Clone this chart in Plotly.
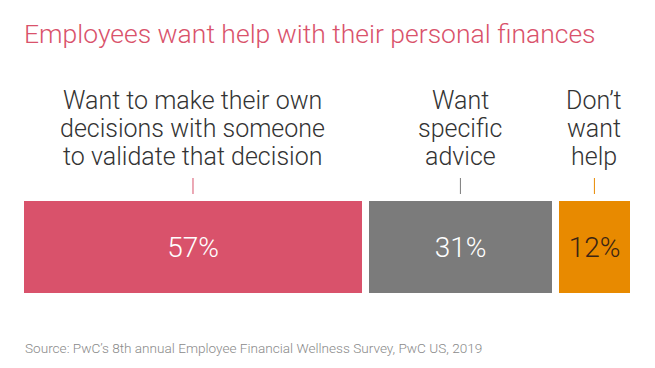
import plotly.graph_objects as go

categories = ["Want to make their own<br>decisions with someone<br>to validate that decision",
              "Want<br>specific<br>advice",
              "Don’t<br>want<br>help"]
values = [57, 31, 12]
value_labels = ["57%", "31%", "12%"]
colors = ["#d9526b", "#7b7b7b", "#e88a00"]
text_colors = ["#ffffff", "#ffffff", "#3a2414"]
tick_colors = ["#d9526b", "#7b7b7b", "#e88a00"]
title_text = "Employees want help with their personal finances"
source_text = "Source: PwC’s 8th annual Employee Financial Wellness Survey, PwC US, 2019"

GAP = 1.1
bases = []
acc = 0
for i, v in enumerate(values):
    bases.append(acc + i * GAP)
    acc += v
total = acc + GAP * (len(values) - 1)

FONT = "Roboto, 'Liberation Sans', Arial, sans-serif"
LINE_H = 28

fig = go.Figure()
for i, v in enumerate(values):
    fig.add_trace(go.Bar(
        x=[v], y=[0], base=[bases[i]], orientation="h", width=1,
        marker=dict(color=colors[i], line=dict(width=0)),
        text=[value_labels[i]], textposition="inside", insidetextanchor="middle",
        textfont=dict(color=text_colors[i], size=28, family=FONT, weight=300),
        hoverinfo="skip", showlegend=False,
    ))
    cx = bases[i] + v / 2
    lines = categories[i].split("<br>")
    n = len(lines)
    for j, line in enumerate(lines):
        fig.add_annotation(x=cx, y=1, xref="x", yref="paper", text=line,
                           showarrow=False, yanchor="middle",
                           yshift=45 + (n - 1 - j) * LINE_H,
                           font=dict(size=25, color="#333333", family=FONT, weight=300))
    fig.add_shape(type="line", xref="x", yref="paper", ysizemode="pixel",
                  yanchor=1, x0=cx, x1=cx, y0=7, y1=23,
                  line=dict(color=tick_colors[i], width=1))

fig.add_annotation(x=0, y=1, xref="paper", yref="paper", xanchor="left", yanchor="middle",
                   text=title_text, showarrow=False,
                   yshift=201 - 33, xshift=-2,
                   font=dict(size=26.5, color="#d9526b", family=FONT, weight=300))
fig.add_annotation(x=0, y=0, xref="paper", yref="paper", xanchor="left", yanchor="middle",
                   text=source_text,
                   showarrow=False, yshift=-(348 - 293), xshift=-1,
                   font=dict(size=13.6, color="#8a8a8a", family=FONT, weight=300))

fig.update_layout(
    width=655, height=368,
    margin=dict(l=24, r=25, t=201, b=75),
    paper_bgcolor="white", plot_bgcolor="white",
    barmode="overlay", bargap=0,
    xaxis=dict(range=[0, total], visible=False, fixedrange=True),
    yaxis=dict(range=[-0.5, 0.5], visible=False, fixedrange=True),
)
fig.write_html("out.html", post_script="document.body.style.margin='0';",
               config={"displayModeBar": False})
